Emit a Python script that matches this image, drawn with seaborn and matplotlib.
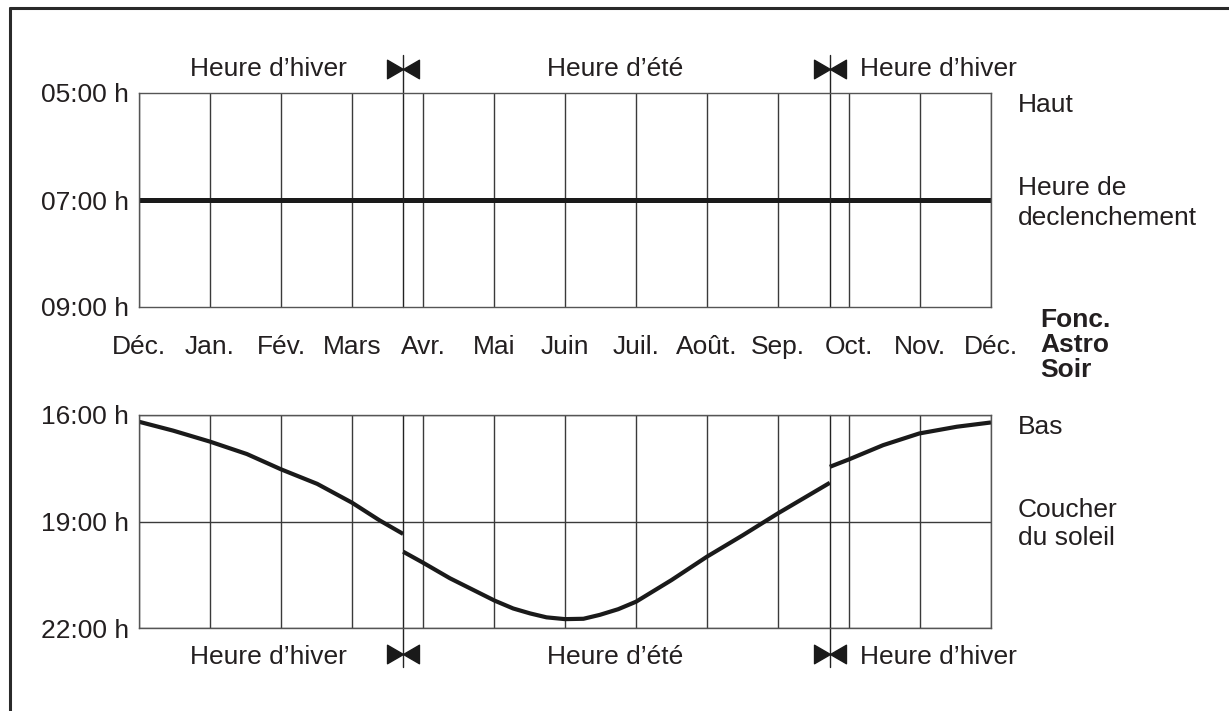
import matplotlib
matplotlib.use("Agg")
import matplotlib.pyplot as plt
from matplotlib.path import Path
from matplotlib.lines import Line2D
import pandas as pd
import seaborn as sns

sns.set_theme(style="white")
plt.rcParams["font.family"] = ["Liberation Sans", "DejaVu Sans"]

# Axis categories and tick labels
mois = ["Déc.", "Jan.", "Fév.", "Mars", "Avr.", "Mai", "Juin",
        "Juil.", "Août.", "Sep.", "Oct.", "Nov.", "Déc."]
heures_haut = [5, 7, 9]
heures_haut_labels = ["05:00 h", "07:00 h", "09:00 h"]
heures_bas = [16, 19, 22]
heures_bas_labels = ["16:00 h", "19:00 h", "22:00 h"]

# Changement d'heure (position in months from December)
changement_heure = [3.72, 9.73]

# Fixed trigger time (top panel)
declenchement_mois = [0.0, 12.0]
declenchement_heure = [7.0, 7.0]

# Sunset time, three segments split by the clock changes
coucher_hiver1_mois = [0.0, 0.48, 1.0, 1.52, 2.0, 2.51, 3.0, 3.39, 3.72]
coucher_hiver1_heure = [16.19, 16.44, 16.75, 17.10, 17.53, 17.94, 18.47, 18.97, 19.35]
coucher_ete_mois = [3.72, 4.0, 4.38, 5.01, 5.27, 5.51, 5.74, 6.0, 6.26, 6.49,
                    6.75, 7.0, 7.5, 8.0, 8.51, 9.0, 9.73]
coucher_ete_heure = [19.85, 20.16, 20.60, 21.23, 21.45, 21.59, 21.70, 21.75, 21.74,
                     21.63, 21.47, 21.26, 20.65, 19.99, 19.38, 18.77, 17.91]
coucher_hiver2_mois = [9.73, 10.0, 10.48, 10.99, 11.52, 12.0]
coucher_hiver2_heure = [17.46, 17.25, 16.85, 16.52, 16.33, 16.21]

W, H = 1229, 711
fig = plt.figure(figsize=(W / 100, H / 100), dpi=100, facecolor="white")

TXT = "#231f20"
GRID = "#3a3a3a"
FS = 19


def box(l, t, r, b):
    return [l / W, 1 - b / H, (r - l) / W, (b - t) / H]


def ftext(x, y, s, **kw):
    kw.setdefault("fontsize", FS)
    kw.setdefault("color", TXT)
    kw.setdefault("va", "center")
    fig.text(x / W, 1 - y / H, s, **kw)


ax_top = fig.add_axes(box(139, 93, 991, 307))
ax_bot = fig.add_axes(box(139, 415, 991, 628))

# Bowtie marker for clock changes
bow = Path(
    [(-1, -0.58), (0, 0), (-1, 0.58), (-1, -0.58),
     (1, -0.58), (0, 0), (1, 0.58), (1, -0.58)],
    [Path.MOVETO, Path.LINETO, Path.LINETO, Path.CLOSEPOLY,
     Path.MOVETO, Path.LINETO, Path.LINETO, Path.CLOSEPOLY],
)

for ax in (ax_top, ax_bot):
    ax.set_facecolor("white")
    ax.set_xlim(0, 12)
    ax.set_xticks(range(len(mois)))
    ax.grid(axis="x", color=GRID, lw=1.0)
    for sp in ax.spines.values():
        sp.set_color("#555555")
        sp.set_linewidth(1.0)
    ax.tick_params(axis="both", length=0, labelsize=FS, labelcolor=TXT)
    ax.tick_params(axis="y", pad=7)

# Top panel: trigger time
sns.lineplot(x=declenchement_mois, y=declenchement_heure, ax=ax_top,
             color="#1a1a1a", lw=3.6, solid_capstyle="butt")
ax_top.set_ylim(9, 5)
ax_top.set_yticks(heures_haut, heures_haut_labels)
ax_top.set_xticks(range(len(mois)), mois)
ax_top.tick_params(axis="x", pad=20)
ax_top.set_xlabel("")
ax_top.set_ylabel("")

# Bottom panel: sunset curve
df = pd.DataFrame({
    "mois": coucher_hiver1_mois + coucher_ete_mois + coucher_hiver2_mois,
    "heure": coucher_hiver1_heure + coucher_ete_heure + coucher_hiver2_heure,
    "segment": ([0] * len(coucher_hiver1_mois) + [1] * len(coucher_ete_mois)
                + [2] * len(coucher_hiver2_mois)),
})
sns.lineplot(data=df, x="mois", y="heure", units="segment", estimator=None,
             sort=False, ax=ax_bot, color="#1a1a1a", lw=3.0,
             solid_capstyle="butt", solid_joinstyle="round")
ax_bot.set_ylim(22, 16)
ax_bot.set_yticks(heures_bas, heures_bas_labels)
ax_bot.grid(axis="y", color=GRID, lw=1.0)
ax_bot.tick_params(axis="x", labelbottom=False)
ax_bot.set_xlabel("")
ax_bot.set_ylabel("")

# Clock-change lines extending past the panels, with bowtie markers
for m in changement_heure:
    ax_top.plot([m, m], [0, 1.178], transform=ax_top.get_xaxis_transform(),
                color="#222222", lw=1.0, clip_on=False)
    ax_top.plot([m], [1.112], transform=ax_top.get_xaxis_transform(),
                marker=bow, markersize=23, color="#1a1a1a", ls="none",
                clip_on=False)
    ax_bot.plot([m, m], [-0.183, 1], transform=ax_bot.get_xaxis_transform(),
                color="#222222", lw=1.0, clip_on=False)
    ax_bot.plot([m], [-0.122], transform=ax_bot.get_xaxis_transform(),
                marker=bow, markersize=23, color="#1a1a1a", ls="none",
                clip_on=False)

# Period labels above and below
for y in (69, 657):
    ftext(268, y, "Heure d’hiver", ha="center")
    ftext(615, y, "Heure d’été", ha="center")
    ftext(860, y, "Heure d’hiver", ha="left")

# Right-hand descriptions
ftext(1018, 105, "Haut")
ftext(1018, 188, "Heure de")
ftext(1018, 218, "declenchement")
ftext(1040, 320, "Fonc.", fontweight="bold")
ftext(1040, 345, "Astro", fontweight="bold")
ftext(1040, 370, "Soir", fontweight="bold")
ftext(1018, 427, "Bas")
ftext(1018, 510, "Coucher")
ftext(1018, 538, "du soleil")

# Outer frame (open to the right and bottom)
fig.add_artist(Line2D([10 / W, 1.0], [1 - 8 / H, 1 - 8 / H],
                      transform=fig.transFigure, color="#2a2a2a", lw=2.2))
fig.add_artist(Line2D([10 / W, 10 / W], [1 - 8 / H, 0.0],
                      transform=fig.transFigure, color="#2a2a2a", lw=2.2))

fig.savefig("out.png", dpi=100, facecolor="white")
